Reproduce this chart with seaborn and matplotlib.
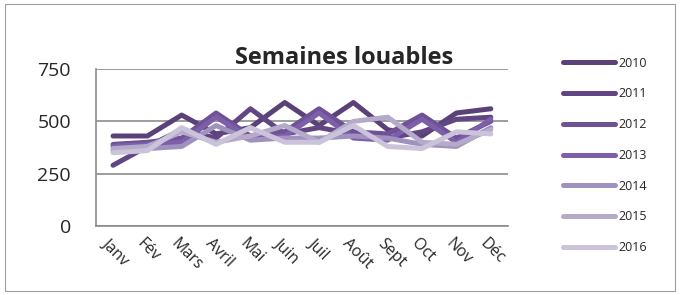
import pandas as pd
import seaborn as sns
import matplotlib.pyplot as plt
import matplotlib.transforms as mtrans
from matplotlib.patches import Rectangle

mois = ["Janv", "Fév", "Mars", "Avril", "Mai", "Juin", "Juil", "Août", "Sept", "Oct", "Nov", "Déc"]
annees = ["2010", "2011", "2012", "2013", "2014", "2015", "2016"]

s2010 = [430, 430, 530, 440, 470, 590, 480, 590, 460, 430, 540, 560]
s2011 = [290, 380, 460, 420, 560, 440, 470, 440, 420, 450, 510, 520]
s2012 = [390, 400, 420, 540, 430, 450, 560, 450, 440, 530, 420, 500]
s2013 = [380, 390, 400, 520, 420, 430, 540, 420, 410, 510, 400, 510]
s2014 = [360, 370, 380, 480, 410, 420, 420, 430, 420, 390, 380, 470]
s2015 = [370, 380, 450, 400, 430, 480, 400, 500, 520, 400, 390, 460]
s2016 = [350, 360, 470, 390, 470, 400, 400, 480, 380, 370, 450, 440]

couleurs = ["#5a4278", "#614683", "#6f5296", "#7c5fa8", "#a092bf", "#b6aacb", "#cbc3da"]

series = [s2010, s2011, s2012, s2013, s2014, s2015, s2016]
rows = []
for a, vals in zip(annees, series):
    for i, v in enumerate(vals):
        rows.append({"annee": a, "idx": i, "valeur": v})
df = pd.DataFrame(rows)

sns.set_style("white")
plt.rcParams['font.family'] = ['Open Sans', 'DejaVu Sans']

fig = plt.figure(figsize=(6.8, 2.95), dpi=100)
ax = fig.add_axes([0.141, 0.234, 0.606, 0.532])

sns.lineplot(data=df, x="idx", y="valeur", hue="annee", palette=couleurs,
             linewidth=3.6, ax=ax, legend=False, solid_capstyle="round")

ax.set_xlim(-0.5, 11.5)
ax.set_ylim(0, 750)
ax.set_yticks([0, 250, 500, 750])
ax.set_yticklabels(["0", "250", "500", "750"], fontsize=14)
ax.set_xticks(range(12))
ax.set_xticklabels(mois, rotation=-45, ha="left", va="top", rotation_mode="anchor", fontsize=11.5)
ax.tick_params(axis="x", length=0, pad=7)
ax.tick_params(axis="y", length=0, pad=18)
ax.set_xlabel("")
ax.set_ylabel("")
ax.yaxis.grid(True, color="#8c8c8c", linewidth=1.2)
ax.set_axisbelow(True)
for sp in ["top", "right"]:
    ax.spines[sp].set_visible(False)
for sp in ["left", "bottom"]:
    ax.spines[sp].set_color("#8c8c8c")
    ax.spines[sp].set_linewidth(1.2)

# labels start a little left of the category centre, as in Excel
off = mtrans.ScaledTranslation(-2 / 72, 0, fig.dpi_scale_trans)
for lab in ax.get_xticklabels():
    lab.set_transform(lab.get_transform() + off)

fig.text(0.506, 0.805, "Semaines louables", ha="center", va="center",
         fontsize=17, fontweight="bold")

handles = [plt.Line2D([], [], color=c, linewidth=3.6, solid_capstyle="round") for c in couleurs]
fig.legend(handles, annees, loc="upper left", bbox_to_anchor=(0.82, 0.825),
           frameon=False, fontsize=9, handlelength=4.2, labelspacing=1.42,
           handletextpad=0.3, borderaxespad=0)

fig.patches.append(Rectangle((0.008, 0.015), 0.985, 0.97, transform=fig.transFigure,
                             fill=False, edgecolor="#a0a0a0", linewidth=0.8))

fig.savefig("out.png", dpi=100)
